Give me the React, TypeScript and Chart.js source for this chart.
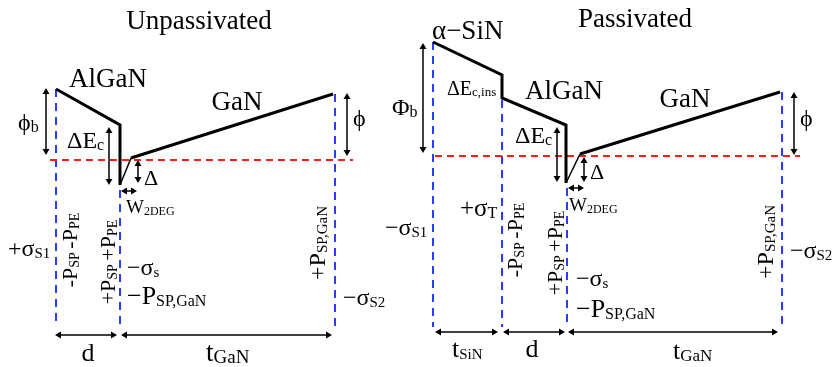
import React, { useEffect, useRef } from "react";
import { Chart, registerables } from "chart.js";

Chart.register(...registerables);

// Frame: x = position along the stack, e = energy (arbitrary units, up is higher)
const X_MAX = 835;
const E_MAX = 367;

// ---------- Unpassivated stack ----------
const unpAlGaNX = [56, 120, 120];
const unpAlGaNE = [278, 242, 182];
const unpNotchX = [120, 131];
const unpNotchE = [182, 209];
const unpGaNX = [131, 333];
const unpGaNE = [209, 273];
const unpFermiE = 207;
const unpFermiX = [50, 353];
const unpBoundaryX = [56, 120, 335];
const unpBoundaryTopE = [278, 177, 273];

// ---------- Passivated stack ----------
const pasBandX = [433, 502, 502, 566, 566];
const pasBandE = [325, 292, 269, 242, 184];
const pasNotchX = [566, 580];
const pasNotchE = [184, 213];
const pasGaNX = [580, 780];
const pasGaNE = [213, 275];
const pasFermiE = 211;
const pasFermiX = [435, 800];
const pasBoundaryX = [433, 502, 567, 782];
const pasBoundaryTopE = [325, 267, 179, 275];

const boundaryBottomE = 40;

// Energy-step markers: [x, e1, e2]
const vArrows: number[][] = [
  [46, 279, 212],
  [109, 240, 182],
  [138, 207, 184],
  [347, 274, 211],
  [423, 324, 214],
  [557, 240, 185],
  [584, 210, 185],
  [794, 275, 212],
];
// Thickness markers: [e, x1, x2]
const hArrows: number[][] = [
  [176, 121, 137],
  [32, 55, 117],
  [32, 121, 332],
  [179, 568, 584],
  [35, 435, 498],
  [35, 503, 565],
  [35, 568, 778],
];

type Part = [string, number];
interface Label {
  x: number;
  e: number;
  parts: Part[];
  size: number;
  sub?: number;
  align?: "left" | "center";
  rot?: boolean;
}

const labels: Label[] = [
  // Unpassivated
  { x: 199, e: 347, parts: [["Unpassivated", 0]], size: 27, align: "center" },
  { x: 108, e: 289, parts: [["AlGaN", 0]], size: 27, align: "center" },
  { x: 237, e: 266, parts: [["GaN", 0]], size: 27, align: "center" },
  { x: 18, e: 245, parts: [["ϕ", 0], ["b", 1]], size: 24, sub: 16 },
  { x: 67, e: 227, parts: [["ΔE", 0], ["c", 1]], size: 24, sub: 16 },
  { x: 144, e: 189, parts: [["Δ", 0]], size: 22 },
  { x: 353, e: 249, parts: [["ϕ", 0]], size: 24 },
  { x: 126, e: 160, parts: [["W", 0], ["2DEG", 1]], size: 19, sub: 12 },
  { x: 8, e: 119, parts: [["+σ", 0], ["S1", 1]], size: 24, sub: 15 },
  { x: 70, e: 117, parts: [["-P", 0], ["SP ", 1], ["-P", 0], ["PE", 1]], size: 22, sub: 14, align: "center", rot: true },
  { x: 108, e: 105, parts: [["+P", 0], ["SP ", 1], ["+P", 0], ["PE", 1]], size: 22, sub: 14, align: "center", rot: true },
  { x: 127, e: 100, parts: [["−σ", 0], ["s", 1]], size: 24, sub: 15 },
  { x: 127, e: 72, parts: [["−P", 0], ["SP,GaN", 1]], size: 26, sub: 16 },
  { x: 317, e: 124, parts: [["+P", 0], ["SP,GaN", 1]], size: 24, sub: 15, align: "center", rot: true },
  { x: 343, e: 70, parts: [["−σ", 0], ["S2", 1]], size: 24, sub: 15 },
  { x: 88, e: 15, parts: [["d", 0]], size: 26, align: "center" },
  { x: 206, e: 15, parts: [["t", 0], ["GaN", 1]], size: 27, sub: 19 },
  // Passivated
  { x: 635, e: 349, parts: [["Passivated", 0]], size: 27, align: "center" },
  { x: 432, e: 337, parts: [["α−SiN", 0]], size: 27 },
  { x: 392, e: 260, parts: [["Φ", 0], ["b", 1]], size: 24, sub: 16 },
  { x: 447, e: 279, parts: [["ΔE", 0], ["c,ins", 1]], size: 20, sub: 13 },
  { x: 564, e: 277, parts: [["AlGaN", 0]], size: 27, align: "center" },
  { x: 685, e: 269, parts: [["GaN", 0]], size: 27, align: "center" },
  { x: 515, e: 232, parts: [["ΔE", 0], ["c", 1]], size: 24, sub: 16 },
  { x: 590, e: 195, parts: [["Δ", 0]], size: 22 },
  { x: 800, e: 249, parts: [["ϕ", 0]], size: 24 },
  { x: 569, e: 162, parts: [["W", 0], ["2DEG", 1]], size: 19, sub: 12 },
  { x: 385, e: 140, parts: [["−σ", 0], ["S1", 1]], size: 24, sub: 15 },
  { x: 460, e: 159, parts: [["+σ", 0], ["T", 1]], size: 25, sub: 16 },
  { x: 515, e: 127, parts: [["-P", 0], ["SP ", 1], ["-P", 0], ["PE", 1]], size: 22, sub: 14, align: "center", rot: true },
  { x: 555, e: 114, parts: [["+P", 0], ["SP ", 1], ["+P", 0], ["PE", 1]], size: 22, sub: 14, align: "center", rot: true },
  { x: 576, e: 89, parts: [["−σ", 0], ["s", 1]], size: 24, sub: 15 },
  { x: 576, e: 59, parts: [["−P", 0], ["SP,GaN", 1]], size: 26, sub: 16 },
  { x: 765, e: 125, parts: [["+P", 0], ["SP,GaN", 1]], size: 24, sub: 15, align: "center", rot: true },
  { x: 790, e: 117, parts: [["−σ", 0], ["S2", 1]], size: 24, sub: 15 },
  { x: 452, e: 19, parts: [["t", 0], ["SiN", 1]], size: 26, sub: 15 },
  { x: 532, e: 19, parts: [["d", 0]], size: 26, align: "center" },
  { x: 673, e: 17, parts: [["t", 0], ["GaN", 1]], size: 26, sub: 17 },
];

const FONT = '"Liberation Serif", "Times New Roman", "DejaVu Serif", serif';
const BLUE = "#2a3cff";
const RED = "#ff1a1a";

const pts = (xs: number[], es: number[]) => xs.map((x, i) => ({ x, y: es[i] }));

function line(data: { x: number; y: number }[], color: string, width: number, dash: number[] = []) {
  return {
    data,
    showLine: true,
    borderColor: color,
    borderWidth: width,
    borderDash: dash,
    borderJoinStyle: "miter" as const,
    pointRadius: 0,
    fill: false,
    tension: 0,
  };
}

function drawRich(ctx: CanvasRenderingContext2D, lb: Label, x: number, y: number) {
  const subSize = lb.sub ?? Math.round(lb.size * 0.62);
  let w = 0;
  for (const [t, s] of lb.parts) {
    ctx.font = `${s ? subSize : lb.size}px ${FONT}`;
    w += ctx.measureText(t).width;
  }
  let cx = lb.align === "center" ? x - w / 2 : x;
  const base = y + lb.size * 0.33;
  ctx.textBaseline = "alphabetic";
  ctx.textAlign = "left";
  for (const [t, s] of lb.parts) {
    ctx.font = `${s ? subSize : lb.size}px ${FONT}`;
    ctx.fillText(t, cx, s ? base + lb.size * 0.08 : base);
    cx += ctx.measureText(t).width;
  }
}

function head(ctx: CanvasRenderingContext2D, x: number, y: number, dx: number, dy: number) {
  const len = 6;
  const half = 3.5;
  const px = -dy;
  const py = dx;
  ctx.beginPath();
  ctx.moveTo(x, y);
  ctx.lineTo(x - dx * len + px * half, y - dy * len + py * half);
  ctx.lineTo(x - dx * len - px * half, y - dy * len - py * half);
  ctx.closePath();
  ctx.fill();
}

const annotations = {
  id: "bandAnnotations",
  afterDatasetsDraw(chart: any) {
    const ctx: CanvasRenderingContext2D = chart.ctx;
    const sx = chart.scales.x;
    const sy = chart.scales.y;
    ctx.save();
    ctx.strokeStyle = "#000";
    ctx.fillStyle = "#000";
    ctx.lineWidth = 1.5;
    for (const [x, e1, e2] of vArrows) {
      const px = sx.getPixelForValue(x);
      const y1 = sy.getPixelForValue(e1);
      const y2 = sy.getPixelForValue(e2);
      ctx.beginPath();
      ctx.moveTo(px, y1 + 4);
      ctx.lineTo(px, y2 - 4);
      ctx.stroke();
      head(ctx, px, y1, 0, -1);
      head(ctx, px, y2, 0, 1);
    }
    for (const [e, x1, x2] of hArrows) {
      const py = sy.getPixelForValue(e);
      const p1 = sx.getPixelForValue(x1);
      const p2 = sx.getPixelForValue(x2);
      ctx.beginPath();
      ctx.moveTo(p1 + 4, py);
      ctx.lineTo(p2 - 4, py);
      ctx.stroke();
      head(ctx, p1, py, -1, 0);
      head(ctx, p2, py, 1, 0);
    }
    for (const lb of labels) {
      const px = sx.getPixelForValue(lb.x);
      const py = sy.getPixelForValue(lb.e);
      if (lb.rot) {
        ctx.save();
        ctx.translate(px, py);
        ctx.rotate(-Math.PI / 2);
        drawRich(ctx, { ...lb, align: "center" }, 0, 0);
        ctx.restore();
      } else {
        drawRich(ctx, lb, px, py);
      }
    }
    ctx.restore();
  },
};

export default function App() {
  const ref = useRef<HTMLCanvasElement>(null);

  useEffect(() => {
    document.body.style.margin = "0";
    const canvas = ref.current;
    if (!canvas) return;

    const boundaries = [
      ...unpBoundaryX.map((x, i) => line(pts([x, x], [unpBoundaryTopE[i], boundaryBottomE]), BLUE, 2, [8, 6])),
      ...pasBoundaryX.map((x, i) => line(pts([x, x], [pasBoundaryTopE[i], boundaryBottomE]), BLUE, 2, [8, 6])),
    ];

    const chart = new Chart(canvas, {
      type: "scatter",
      data: {
        datasets: [
          line(pts(unpAlGaNX, unpAlGaNE), "#000", 3),
          line(pts(unpNotchX, unpNotchE), "#000", 1.5),
          line(pts(unpGaNX, unpGaNE), "#000", 3),
          line(pts(pasBandX, pasBandE), "#000", 3),
          line(pts(pasNotchX, pasNotchE), "#000", 1.5),
          line(pts(pasGaNX, pasGaNE), "#000", 3),
          line(pts(unpFermiX, [unpFermiE, unpFermiE]), RED, 1.8, [7, 5]),
          line(pts(pasFermiX, [pasFermiE, pasFermiE]), RED, 1.8, [7, 5]),
          ...boundaries,
        ] as any,
      },
      options: {
        responsive: false,
        maintainAspectRatio: false,
        animation: false,
        layout: { padding: 0 },
        plugins: { legend: { display: false }, tooltip: { enabled: false } },
        scales: {
          x: { type: "linear", display: false, min: 0, max: X_MAX },
          y: { type: "linear", display: false, min: 0, max: E_MAX },
        },
      },
      plugins: [annotations],
    });
    return () => chart.destroy();
  }, []);

  return (
    <div style={{ width: 835, height: 367, background: "#fff" }}>
      <canvas ref={ref} width={835} height={367} style={{ display: "block" }} />
    </div>
  );
}
